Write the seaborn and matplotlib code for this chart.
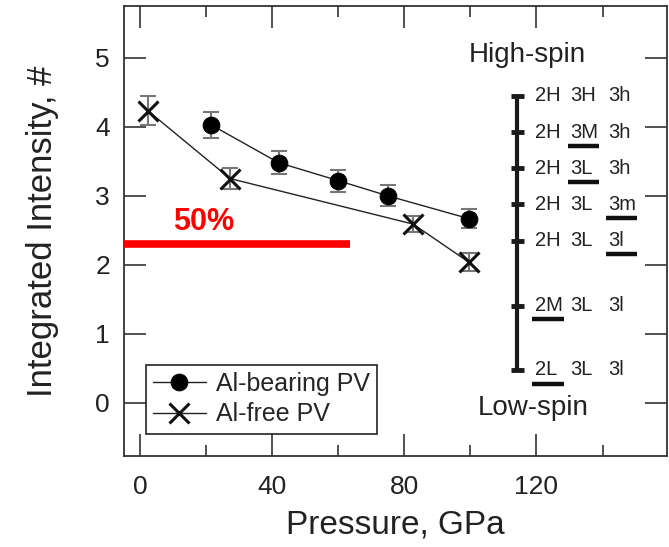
import matplotlib
matplotlib.use("Agg")
import matplotlib.pyplot as plt
import seaborn as sns
import pandas as pd

# ---- data ----
al_pressure = [21.5, 42, 60, 75, 99.5]
al_intensity = [4.03, 3.48, 3.22, 3.00, 2.67]
al_err = [0.19, 0.17, 0.16, 0.15, 0.14]

free_pressure = [2.5, 27.3, 82.7, 99.5]
free_intensity = [4.23, 3.25, 2.59, 2.04]
free_err = [0.21, 0.15, 0.12, 0.13]

half_level = 2.30          # "50%" line
half_end = 63.6

spin_levels = [4.45, 3.92, 3.40, 2.88, 2.35, 1.41, 0.48]
col_fe2 = ["2H", "2H", "2H", "2H", "2H", "2M", "2L"]
col_fe3a = ["3H", "3M", "3L", "3L", "3L", "3L", "3L"]
col_fe3b = ["3h", "3h", "3h", "3m", "3l", "3l", "3l"]
underlined = [None, 1, 1, 2, 2, 0, 0]

al_df = pd.DataFrame({"pressure": al_pressure, "intensity": al_intensity, "err": al_err})
free_df = pd.DataFrame({"pressure": free_pressure, "intensity": free_intensity, "err": free_err})

# ---- style ----
sns.set_theme(style="ticks")
plt.rcParams["font.family"] = ["Liberation Sans", "DejaVu Sans"]

fig = plt.figure(figsize=(6.69, 5.47), dpi=100)
ax = fig.add_axes([0.1853, 0.1664, 0.8117, 0.8226])

# ---- series ----
ax.errorbar(al_df["pressure"], al_df["intensity"], yerr=al_df["err"], fmt="none",
            ecolor="#777777", elinewidth=1.5, capsize=6, capthick=1.5, zorder=2)
ax.errorbar(free_df["pressure"], free_df["intensity"], yerr=free_df["err"], fmt="none",
            ecolor="#777777", elinewidth=1.5, capsize=6, capthick=1.5, zorder=2)

sns.lineplot(data=al_df, x="pressure", y="intensity", ax=ax, color="#222222", lw=1,
             marker="o", markersize=12, mfc="black", mec="black", label="Al-bearing PV",
             sort=False, zorder=3)
sns.lineplot(data=free_df, x="pressure", y="intensity", ax=ax, color="#222222", lw=1,
             marker="x", markersize=14, mew=2.2, mec="#111111", label="Al-free PV",
             sort=False, zorder=3)

# ---- 50% marker ----
ax.plot([-4.8, half_end], [half_level, half_level], color="#ff0000", lw=5.5,
        solid_capstyle="butt", zorder=4)
ax.text(19.2, half_level + 0.11, "50%", color="#ff0000", fontsize=22, fontweight="bold",
        ha="center", va="bottom")

# ---- spin-state scale ----
scale_x = 114.2
ax.plot([scale_x, scale_x], [spin_levels[-1], spin_levels[0]], color="#1a1a1a", lw=3,
        solid_capstyle="butt")
col_x = [119.5, 130.2, 141.6]
for i, lvl in enumerate(spin_levels):
    ax.plot([scale_x - 1.9, scale_x + 1.9], [lvl, lvl], color="#1a1a1a", lw=3.5,
            solid_capstyle="butt")
    for j, lab in enumerate([col_fe2[i], col_fe3a[i], col_fe3b[i]]):
        ax.text(col_x[j], lvl, lab, fontsize=14.5, color="#222222", ha="left", va="center")
    if underlined[i] is not None:
        ux = col_x[underlined[i]]
        ax.plot([ux - 0.7, ux + 8.8], [lvl - 0.2, lvl - 0.2], color="#111111", lw=3.2,
                solid_capstyle="butt")

ax.text(117.3, 5.04, "High-spin", fontsize=20, color="#222222", ha="center", va="center")
ax.text(119, -0.08, "Low-spin", fontsize=20, color="#222222", ha="center", va="center")

# ---- axes ----
ax.set_xlim(-4.8, 159.5)
ax.set_ylim(-0.77, 5.75)
ax.set_xticks([0, 40, 80, 120])
ax.set_xticks([20, 60, 100, 140], minor=True)
ax.set_yticks([0, 1, 2, 3, 4, 5])
ax.tick_params(axis="both", which="major", direction="in", length=16, width=1.2,
               color="#333333", labelsize=19, labelcolor="#222222", top=True, right=True, pad=14)
ax.tick_params(axis="x", which="minor", direction="in", length=8, width=1.2,
               color="#333333", top=True)
ax.tick_params(axis="y", which="major", pad=10)
for sp in ax.spines.values():
    sp.set_color("#333333")
    sp.set_linewidth(1.3)

ax.set_xlabel("Pressure, GPa", fontsize=24, color="#222222", labelpad=7)
ax.set_ylabel("Integrated Intensity, #", fontsize=25, color="#222222", labelpad=26)

leg = ax.legend(loc="lower left", bbox_to_anchor=(0.04, 0.049), fontsize=18, frameon=True,
                fancybox=False, edgecolor="#222222", framealpha=1, handlelength=2.1,
                borderpad=0.3, labelspacing=0.25, handletextpad=0.4, borderaxespad=0)
leg.get_frame().set_linewidth(1.2)

fig.savefig("out.png", dpi=100)
